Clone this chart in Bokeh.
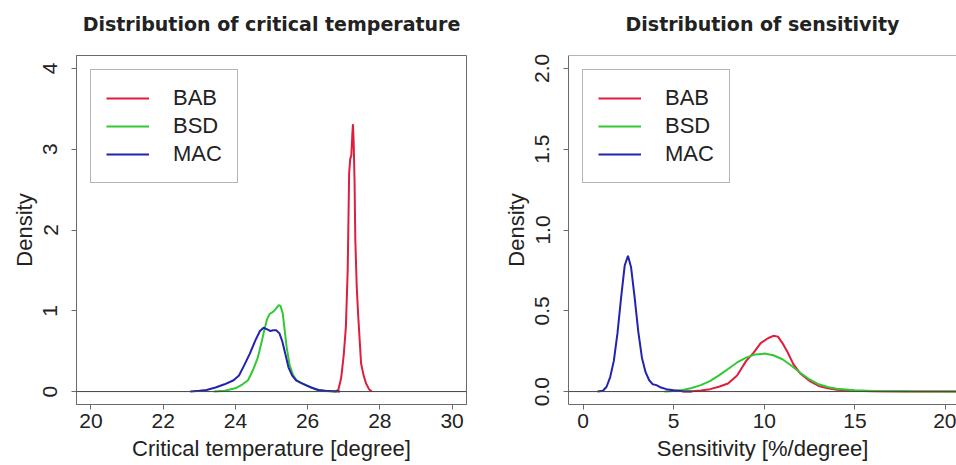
import math
from bokeh.plotting import figure
from bokeh.layouts import row
from bokeh.models import Span, FixedTicker, PrintfTickFormatter, Range1d, Legend, LegendItem, Title
from bokeh.embed import file_html
from bokeh.resources import INLINE

# ---- data: critical temperature densities ----
temp_bab_x = [26.75, 26.85, 26.93, 27.0, 27.06, 27.11, 27.15, 27.18, 27.21, 27.235, 27.255, 27.275,
              27.3, 27.32, 27.36, 27.4, 27.44, 27.48, 27.55, 27.62, 27.7, 27.78]
temp_bab_y = [0, 0.02, 0.17, 0.45, 0.8, 1.5, 2.7, 2.88, 2.92, 3.15, 3.31, 3.1,
              2.6, 1.9, 1.3, 0.95, 0.65, 0.35, 0.2, 0.1, 0.03, 0]

temp_bsd_x = [23.4, 23.7, 24.0, 24.2, 24.35, 24.5, 24.62, 24.72, 24.8, 24.88, 24.95, 25.05, 25.13,
              25.2, 25.25, 25.31, 25.36, 25.42, 25.5, 25.6, 25.7, 25.85, 26.0, 26.2, 26.4, 26.6, 26.8]
temp_bsd_y = [0, 0.01, 0.04, 0.09, 0.14, 0.28, 0.42, 0.6, 0.76, 0.9, 0.96, 0.99, 1.03,
              1.07, 1.06, 0.97, 0.78, 0.55, 0.33, 0.2, 0.14, 0.1, 0.07, 0.03, 0.01, 0.005, 0]

temp_mac_x = [22.75, 23.0, 23.2, 23.45, 23.7, 23.95, 24.1, 24.25, 24.4, 24.55, 24.68, 24.78, 24.88,
              24.97, 25.05, 25.13, 25.22, 25.3, 25.38, 25.47, 25.57, 25.68, 25.8, 25.95, 26.1, 26.3,
              26.5, 26.7, 26.9]
temp_mac_y = [0, 0.01, 0.02, 0.05, 0.09, 0.14, 0.2, 0.33, 0.47, 0.63, 0.75, 0.79, 0.77,
              0.75, 0.76, 0.76, 0.72, 0.62, 0.47, 0.3, 0.2, 0.14, 0.11, 0.08, 0.05, 0.02,
              0.01, 0.005, 0]

# ---- data: sensitivity densities ----
sens_bab_x = [5.5, 6.0, 6.5, 7.0, 7.5, 8.0, 8.5, 9.0, 9.4, 9.8, 10.2, 10.5, 10.75, 11.0, 11.3,
              11.6, 12.0, 12.5, 13.0, 13.5, 14.0, 15.0, 16.0, 18.0, 20.6]
sens_bab_y = [0, 0.002, 0.006, 0.015, 0.03, 0.05, 0.1, 0.19, 0.24, 0.3, 0.33, 0.345, 0.34, 0.3, 0.24,
              0.17, 0.11, 0.065, 0.035, 0.02, 0.012, 0.005, 0.002, 0.001, 0]

sens_bsd_x = [4.5, 5.0, 5.5, 6.0, 6.5, 7.0, 7.5, 8.0, 8.5, 9.0, 9.5, 10.0, 10.5, 11.0, 11.5,
              12.0, 12.5, 13.0, 13.5, 14.0, 15.0, 16.0, 18.0, 20.6]
sens_bsd_y = [0, 0.003, 0.01, 0.022, 0.04, 0.065, 0.1, 0.14, 0.18, 0.21, 0.23, 0.235, 0.225, 0.2, 0.16,
              0.115, 0.075, 0.045, 0.028, 0.017, 0.008, 0.004, 0.002, 0.001]

sens_mac_x = [0.8, 1.1, 1.3, 1.5, 1.7, 1.9, 2.1, 2.3, 2.48, 2.65, 2.85, 3.05, 3.25, 3.45, 3.65,
              3.85, 4.05, 4.3, 4.6, 5.0, 5.5, 6.0]
sens_mac_y = [0, 0.005, 0.03, 0.09, 0.19, 0.36, 0.58, 0.78, 0.84, 0.77, 0.58, 0.37, 0.21, 0.12, 0.07,
              0.045, 0.04, 0.025, 0.015, 0.008, 0.002, 0]

series_names = ["BAB", "BSD", "MAC"]
series_colors = ["#DE1E3C", "#33C833", "#2323B0"]

temp_xticks = [20, 22, 24, 26, 28, 30]
temp_yticks = [0, 1, 2, 3, 4]
sens_xticks = [0, 5, 10, 15, 20]
sens_yticks = [0.0, 0.5, 1.0, 1.5, 2.0]

FONT = "Liberation Sans"
TITLE_FONT = "DejaVu Sans"
TXT = "#222222"
AX = "#6a6a6a"


def style(p, xticks, yticks, xlabel, fmt=None):
    p.xaxis.ticker = FixedTicker(ticks=xticks)
    p.yaxis.ticker = FixedTicker(ticks=yticks)
    if fmt:
        p.yaxis.formatter = PrintfTickFormatter(format=fmt)
    p.xaxis.axis_label = xlabel
    p.yaxis.axis_label = "Density"
    for ax in (p.xaxis[0], p.yaxis[0]):
        ax.axis_line_color = AX
        ax.major_tick_line_color = AX
        ax.major_tick_in = 0
        ax.major_tick_out = 5
        ax.minor_tick_line_color = None
        ax.major_label_text_font = FONT
        ax.major_label_text_font_size = "21px"
        ax.major_label_text_color = TXT
        ax.axis_label_text_font = FONT
        ax.axis_label_text_font_size = "22px"
        ax.axis_label_text_font_style = "normal"
        ax.axis_label_text_color = TXT
    p.xaxis.major_label_standoff = 4
    p.xaxis.axis_label_standoff = 5
    p.yaxis.major_label_orientation = "vertical"
    p.yaxis.major_label_standoff = 14
    p.yaxis.axis_label_standoff = 4
    p.xgrid.visible = False
    p.ygrid.visible = False
    p.title.text_font = TITLE_FONT
    p.title.text_font_size = "19px"
    p.title.text_font_style = "bold"
    p.title.text_color = TXT
    p.title.align = "center"
    p.title.standoff = 21
    p.background_fill_color = "white"
    p.border_fill_color = "white"


def make(title, xr, yr, xs, ys, xticks, yticks, xlabel, fmt, mbl, mbr, width, outline):
    p = figure(width=width, height=465, x_range=Range1d(*xr), y_range=Range1d(*yr),
               output_backend="svg", toolbar_location=None, title=title,
               min_border_left=mbl, min_border_right=mbr, min_border_top=55, min_border_bottom=61)
    style(p, xticks, yticks, xlabel, fmt)
    # small empty spacer between title and plot box
    p.add_layout(Title(text=" ", text_font_size="1px", standoff=7), "above")
    p.add_layout(Span(location=0, dimension="width", line_color="#444444", line_width=1))
    items = []
    for name, col, x, y in zip(series_names, series_colors, xs, ys):
        r = p.line(x, y, line_color=col, line_width=2)
        items.append(LegendItem(label=name, renderers=[r]))
    leg = Legend(items=items, location="top_left", margin=14, padding=15, spacing=2,
                 glyph_width=43, glyph_height=20, label_height=20, label_standoff=24,
                 label_text_font=FONT, label_text_font_size="22px", label_text_color=TXT,
                 border_line_color=AX, border_line_width=1, background_fill_alpha=1)
    p.add_layout(leg)
    if outline:
        p.outline_line_color = AX
    else:
        p.outline_line_color = None
        p.add_layout(Span(location=yr[1], dimension="width", line_color=AX, line_width=1))
    return p


p1 = make("Distribution of critical temperature", (19.6, 30.4), (-0.16, 4.16),
          [temp_bab_x, temp_bsd_x, temp_mac_x], [temp_bab_y, temp_bsd_y, temp_mac_y],
          temp_xticks, temp_yticks, "Critical temperature [degree]", None, 76, 12, 478, True)
p2 = make("Distribution of sensitivity", (-0.8, 20.6), (-0.08, 2.08),
          [sens_bab_x, sens_bsd_x, sens_mac_x], [sens_bab_y, sens_bsd_y, sens_mac_y],
          sens_xticks, sens_yticks, "Sensitivity [%/degree]", "%.1f", 90, 0, 478, False)

layout = row(p1, p2)
open("out.html", "w").write(file_html(layout, INLINE))
